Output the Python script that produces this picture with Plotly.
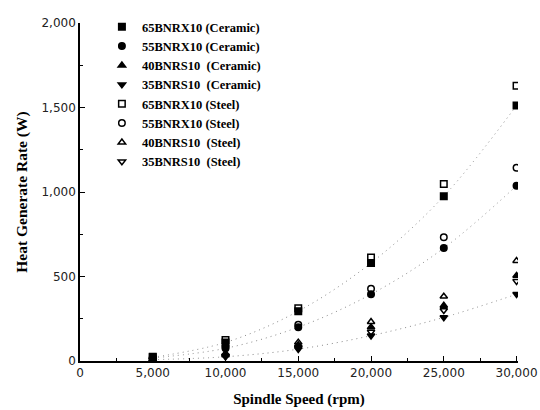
import plotly.graph_objects as go

speed = [5000, 10000, 15000, 20000, 25000, 30000]

c65_ceramic = [22, 110, 295, 580, 975, 1512]
c55_ceramic = [18, 75, 200, 395, 668, 1037]
c40_ceramic = [12, 35, 95, 200, 328, 505]
c35_ceramic = [8, 25, 70, 150, 258, 395]
s65_steel = [25, 125, 312, 612, 1048, 1628]
s55_steel = [20, 85, 215, 428, 732, 1143]
s40_steel = [12, 45, 110, 232, 382, 593]
s35_steel = [8, 30, 80, 172, 300, 472]

names = ["65BNRX10 (Ceramic)", "55BNRX10 (Ceramic)", "40BNRS10\u00a0 (Ceramic)", "35BNRS10\u00a0 (Ceramic)",
         "65BNRX10 (Steel)", "55BNRX10 (Steel)", "40BNRS10\u00a0 (Steel)", "35BNRS10\u00a0 (Steel)"]
series = [c65_ceramic, c55_ceramic, c40_ceramic, c35_ceramic, s65_steel, s55_steel, s40_steel, s35_steel]
symbols = ["square", "circle", "triangle-up", "triangle-down",
           "square-open", "circle-open", "triangle-up-open", "triangle-down-open"]

fig = go.Figure()

# dotted fit curves through ceramic series
for ys in [c65_ceramic, c55_ceramic, c35_ceramic]:
    fig.add_trace(go.Scatter(x=speed, y=ys, mode="lines", showlegend=False, hoverinfo="skip",
                             line=dict(color="#8a8a8a", width=1, dash="1px,4px", shape="spline")))

for n, ys, sym in zip(names, series, symbols):
    fig.add_trace(go.Scatter(x=speed, y=ys, mode="markers", name=n,
                             marker=dict(symbol=sym, size=6.5, color="black",
                                         line=dict(color="black", width=1.5))))

fig.update_layout(
    width=540, height=410,
    margin=dict(l=80, r=22, t=17, b=49),
    paper_bgcolor="white", plot_bgcolor="white",
    font=dict(family="DejaVu Sans", size=12, color="#222"),
    legend=dict(x=0.05, y=1.032, xanchor="left", yanchor="top", bgcolor="rgba(0,0,0,0)",
                font=dict(family="Liberation Serif", size=12.5, color="black", weight="bold"),
                itemwidth=30, tracegroupgap=0),
    xaxis=dict(range=[0, 30100], tickvals=[0, 5000, 10000, 15000, 20000, 25000, 30000],
               tickformat=",d", showgrid=False, zeroline=False, showline=True, linecolor="black",
               linewidth=1.5, ticks="inside", ticklen=5, tickcolor="black", automargin=False,
               minor=dict(tickvals=[2500, 7500, 12500, 17500, 22500, 27500], ticks="inside",
                          ticklen=3, tickcolor="black"),
               title=dict(text="Spindle Speed (rpm)", standoff=14,
                          font=dict(family="Liberation Serif", size=15, weight="bold", color="black"))),
    yaxis=dict(range=[0, 2000], tickvals=[0, 500, 1000, 1500, 2000], tickformat=",d",
               showgrid=False, zeroline=False, showline=True, linecolor="black", linewidth=1.5,
               ticks="inside", ticklen=5, tickcolor="black", automargin=False,
               minor=dict(tickvals=[250, 750, 1250, 1750], ticks="inside", ticklen=3, tickcolor="black"),
               title=dict(text="Heat Generate Rate (W)", standoff=10,
                          font=dict(family="Liberation Serif", size=15.5, weight="bold", color="black"))),
)

fig.write_html("out.html")
